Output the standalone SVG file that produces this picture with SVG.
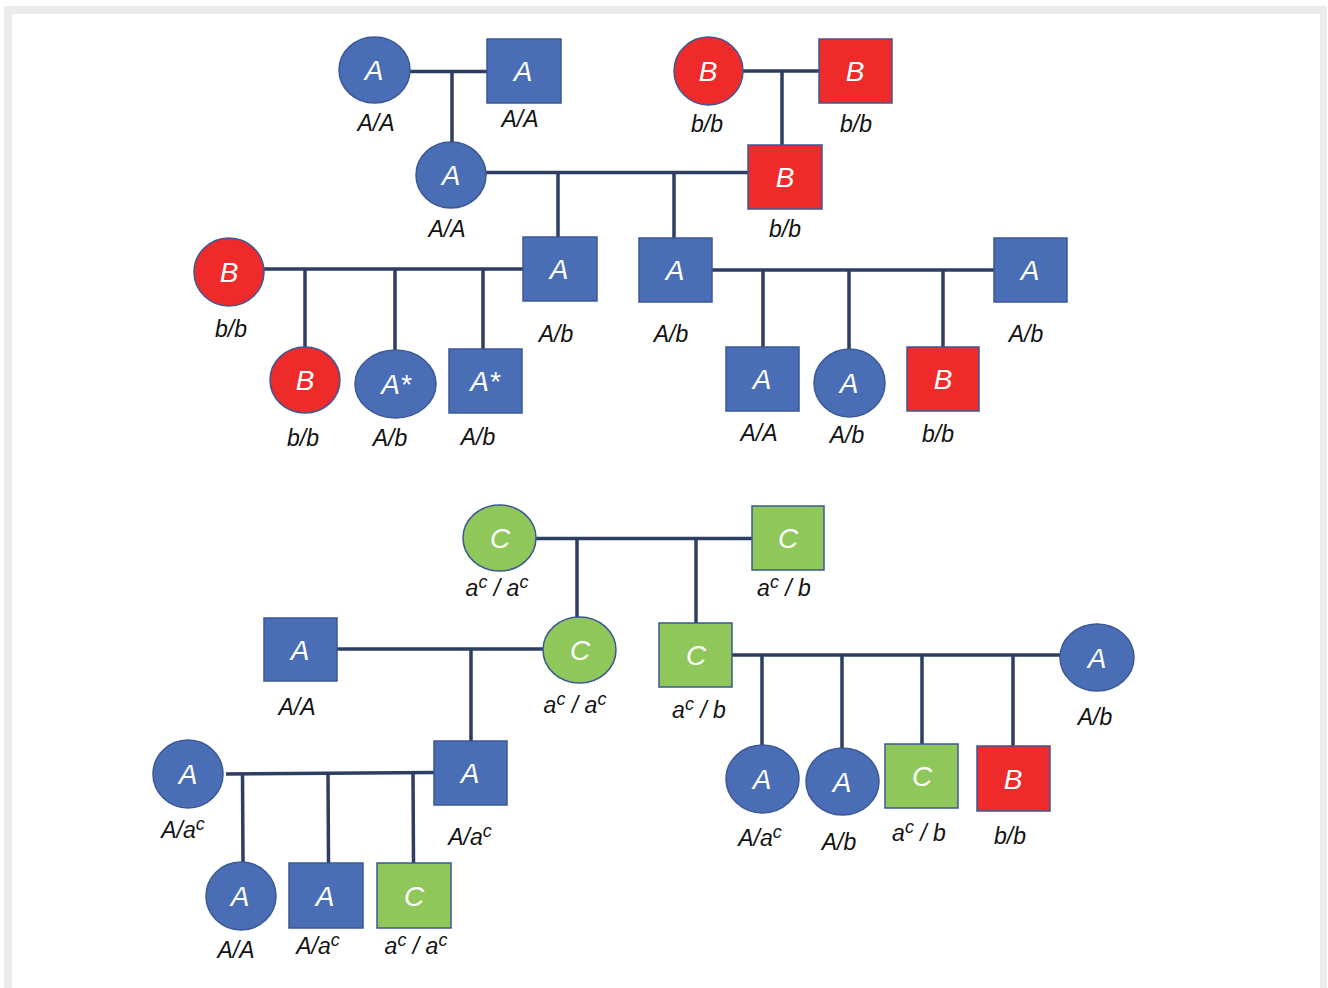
<svg xmlns="http://www.w3.org/2000/svg" width="1328" height="988" viewBox="0 0 1328 988">
<style>
.b{fill:#4a6eb5;stroke:#3b5894;stroke-width:1.5}
.r{fill:#ee2a2a;stroke:#3b5894;stroke-width:1.5}
.g{fill:#8fc75a;stroke:#3b5894;stroke-width:1.5}
.n{font-family:"Liberation Sans",Arial,sans-serif;font-style:italic;font-size:28px;fill:#ffffff;text-anchor:middle}
.l{font-family:"Liberation Sans",Arial,sans-serif;font-style:italic;font-size:23px;fill:#111111;text-anchor:middle}
.s{font-size:18px}
#connectors line{stroke:#2e3d62;stroke-width:3.5;fill:none}
</style>
<rect x="0" y="0" width="1328" height="988" fill="#ffffff"/>
<path d="M4 6H1327V988H1320V14H12V988H4Z" fill="#ebebed"/>
<g id="connectors">
<line x1="410" y1="71.5" x2="487" y2="71.5"/>
<line x1="452" y1="71.5" x2="452" y2="142"/>
<line x1="743" y1="71" x2="819" y2="71"/>
<line x1="782" y1="71" x2="782" y2="145"/>
<line x1="486" y1="172.5" x2="748" y2="172.5"/>
<line x1="558" y1="172.5" x2="558" y2="237"/>
<line x1="674" y1="172.5" x2="674" y2="238"/>
<line x1="264" y1="269" x2="523" y2="269"/>
<line x1="305" y1="269" x2="305" y2="347"/>
<line x1="395" y1="269" x2="395" y2="350"/>
<line x1="483" y1="269" x2="483" y2="349"/>
<line x1="712" y1="270" x2="994" y2="270"/>
<line x1="763" y1="270" x2="763" y2="347"/>
<line x1="849" y1="270" x2="849" y2="349"/>
<line x1="943" y1="270" x2="943" y2="347"/>
<line x1="536" y1="538.5" x2="752" y2="538.5"/>
<line x1="577" y1="538.5" x2="577" y2="618"/>
<line x1="696" y1="538.5" x2="696" y2="623"/>
<line x1="337" y1="649" x2="543" y2="649"/>
<line x1="471" y1="649" x2="471" y2="741"/>
<line x1="732" y1="655" x2="1060" y2="655"/>
<line x1="762" y1="655" x2="762" y2="745"/>
<line x1="842" y1="655" x2="842" y2="748"/>
<line x1="922" y1="655" x2="922" y2="744"/>
<line x1="1013" y1="655" x2="1013" y2="746"/>
<line x1="226" y1="774" x2="434" y2="772.5"/>
<line x1="242.5" y1="773.8" x2="243" y2="862"/>
<line x1="328" y1="773.2" x2="328.5" y2="863"/>
<line x1="413" y1="772.6" x2="413.5" y2="863"/>
</g>
<g id="n1"><ellipse class="b" cx="374.5" cy="70" rx="35.5" ry="33"/><text class="n" x="374" y="80">A</text><text class="l" x="376" y="131">A/A</text></g>
<g id="n2"><rect class="b" x="487" y="39" width="74" height="64"/><text class="n" x="523" y="81">A</text><text class="l" x="520" y="127">A/A</text></g>
<g id="n3"><ellipse class="r" cx="708.5" cy="71" rx="34.5" ry="34"/><text class="n" x="708" y="81">B</text><text class="l" x="707" y="132">b/b</text></g>
<g id="n4"><rect class="r" x="819" y="39" width="73" height="64"/><text class="n" x="855" y="81">B</text><text class="l" x="856" y="132">b/b</text></g>
<g id="n5"><ellipse class="b" cx="451" cy="175" rx="35" ry="33"/><text class="n" x="451" y="185">A</text><text class="l" x="447" y="237">A/A</text></g>
<g id="n6"><rect class="r" x="748" y="145" width="74" height="64"/><text class="n" x="785" y="187">B</text><text class="l" x="785" y="237">b/b</text></g>
<g id="n7"><ellipse class="r" cx="229" cy="272" rx="35" ry="34"/><text class="n" x="229" y="282">B</text><text class="l" x="231" y="337">b/b</text></g>
<g id="n8"><rect class="b" x="523" y="237" width="74" height="64"/><text class="n" x="559" y="279">A</text><text class="l" x="556" y="342">A/b</text></g>
<g id="n9"><ellipse class="r" cx="305" cy="380" rx="35" ry="33"/><text class="n" x="305" y="390">B</text><text class="l" x="303" y="446">b/b</text></g>
<g id="n10"><ellipse class="b" cx="395.5" cy="384" rx="40.5" ry="34"/><text class="n" x="396" y="394">A*</text><text class="l" x="390" y="446">A/b</text></g>
<g id="n11"><rect class="b" x="449" y="349" width="73" height="64"/><text class="n" x="485" y="391">A*</text><text class="l" x="478" y="445">A/b</text></g>
<g id="n12"><rect class="b" x="639" y="238" width="73" height="64"/><text class="n" x="675" y="280">A</text><text class="l" x="671" y="342">A/b</text></g>
<g id="n13"><rect class="b" x="994" y="238" width="73" height="64"/><text class="n" x="1030" y="280">A</text><text class="l" x="1026" y="342">A/b</text></g>
<g id="n14"><rect class="b" x="726" y="347" width="73" height="64"/><text class="n" x="762" y="389">A</text><text class="l" x="759" y="441">A/A</text></g>
<g id="n15"><ellipse class="b" cx="849.5" cy="383" rx="35.5" ry="34"/><text class="n" x="849" y="393">A</text><text class="l" x="847" y="443">A/b</text></g>
<g id="n16"><rect class="r" x="907" y="347" width="72" height="64"/><text class="n" x="943" y="389">B</text><text class="l" x="938" y="442">b/b</text></g>
<g id="n17"><ellipse class="g" cx="499.5" cy="538" rx="36.5" ry="33"/><text class="n" x="500" y="548">C</text><text class="l" x="497" y="596">a<tspan class="s" dy="-8">c</tspan><tspan dy="8"> / a</tspan><tspan class="s" dy="-8">c</tspan></text></g>
<g id="n18"><rect class="g" x="752" y="506" width="72" height="64"/><text class="n" x="788" y="548">C</text><text class="l" x="784" y="596">a<tspan class="s" dy="-8">c</tspan><tspan dy="8"> / b</tspan></text></g>
<g id="n19"><rect class="b" x="264" y="618" width="73" height="63"/><text class="n" x="300" y="660">A</text><text class="l" x="297" y="715">A/A</text></g>
<g id="n20"><ellipse class="g" cx="579.5" cy="650" rx="36.5" ry="33"/><text class="n" x="580" y="660">C</text><text class="l" x="575" y="713">a<tspan class="s" dy="-8">c</tspan><tspan dy="8"> / a</tspan><tspan class="s" dy="-8">c</tspan></text></g>
<g id="n21"><rect class="g" x="659" y="623" width="73" height="64"/><text class="n" x="696" y="665">C</text><text class="l" x="699" y="718">a<tspan class="s" dy="-8">c</tspan><tspan dy="8"> / b</tspan></text></g>
<g id="n22"><ellipse class="b" cx="1097" cy="657.5" rx="37" ry="33.5"/><text class="n" x="1097" y="668">A</text><text class="l" x="1095" y="725">A/b</text></g>
<g id="n23"><ellipse class="b" cx="188" cy="774" rx="35" ry="34"/><text class="n" x="188" y="784">A</text><text class="l" x="183" y="838">A/a<tspan class="s" dy="-8">c</tspan></text></g>
<g id="n24"><rect class="b" x="434" y="741" width="73" height="64"/><text class="n" x="470" y="783">A</text><text class="l" x="470" y="845">A/a<tspan class="s" dy="-8">c</tspan></text></g>
<g id="n25"><ellipse class="b" cx="762.5" cy="779" rx="36.5" ry="34"/><text class="n" x="762" y="789">A</text><text class="l" x="760" y="846">A/a<tspan class="s" dy="-8">c</tspan></text></g>
<g id="n26"><ellipse class="b" cx="842.5" cy="781.5" rx="36.5" ry="33.5"/><text class="n" x="842" y="792">A</text><text class="l" x="839" y="850">A/b</text></g>
<g id="n27"><rect class="g" x="885" y="744" width="73" height="64"/><text class="n" x="922" y="786">C</text><text class="l" x="919" y="841">a<tspan class="s" dy="-8">c</tspan><tspan dy="8"> / b</tspan></text></g>
<g id="n28"><rect class="r" x="977" y="746" width="73" height="65"/><text class="n" x="1013" y="789">B</text><text class="l" x="1010" y="844">b/b</text></g>
<g id="n29"><ellipse class="b" cx="241" cy="896" rx="35" ry="34"/><text class="n" x="240" y="906">A</text><text class="l" x="236" y="958">A/A</text></g>
<g id="n30"><rect class="b" x="289" y="863" width="74" height="65"/><text class="n" x="325" y="906">A</text><text class="l" x="318" y="954">A/a<tspan class="s" dy="-8">c</tspan></text></g>
<g id="n31"><rect class="g" x="377" y="863" width="74" height="65"/><text class="n" x="414" y="906">C</text><text class="l" x="416" y="954">a<tspan class="s" dy="-8">c</tspan><tspan dy="8"> / a</tspan><tspan class="s" dy="-8">c</tspan></text></g>
</svg>
